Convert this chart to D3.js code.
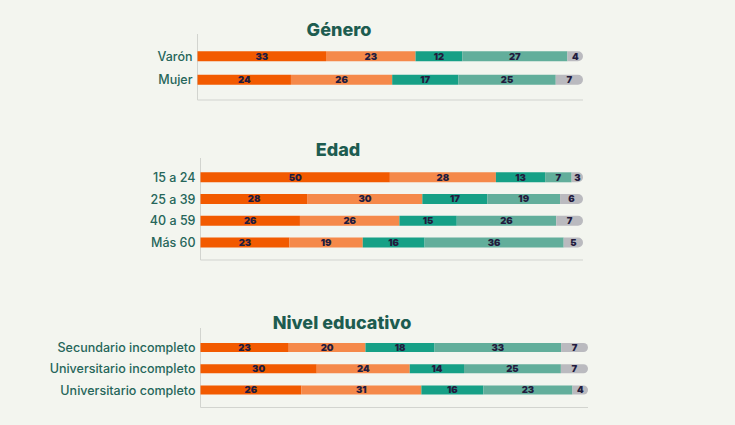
<!DOCTYPE html>
<html>
<head>
<meta charset="utf-8">
<script src="https://cdn.jsdelivr.net/npm/d3@7"></script>
<style>
  html, body { margin: 0; padding: 0; background: #f3f5ef; }
  svg { display: block; }
</style>
</head>
<body>
<svg id="chart" width="735" height="425"></svg>
<script>
// series keys (order of the stacked segments)
var keys = ['s1', 's2', 's3', 's4', 's5'];
var colors = ['#f25a00', '#f5894a', '#16a086', '#62ae9b', '#bababf'];

// Género
var generoCats = ['Varón', 'Mujer'];
var generoVals = [
  [33, 23, 12, 27, 4],
  [24, 26, 17, 25, 7]
];

// Edad
var edadCats = ['15 a 24', '25 a 39', '40 a 59', 'Más 60'];
var edadVals = [
  [50, 28, 13, 7, 3],
  [28, 30, 17, 19, 6],
  [26, 26, 15, 26, 7],
  [23, 19, 16, 36, 5]
];

// Nivel educativo
var nivelCats = ['Secundario incompleto', 'Universitario incompleto', 'Universitario completo'];
var nivelVals = [
  [23, 20, 18, 33, 7],
  [30, 24, 14, 25, 7],
  [26, 31, 16, 23, 4]
];

var svg = d3.select('#chart');
var font = 'Inter, "Open Sans", sans-serif';

// one block per section
var panel = function(o) {
  var g = svg.append('g');
  var rows = o.cats.map(function(c, i) {
    var r = { cat: c };
    keys.forEach(function(k, j) { r[k] = o.vals[i][j]; });
    return r;
  });
  var series = d3.stack().keys(keys).offset(d3.stackOffsetExpand)(rows);

  var x = d3.scaleLinear().domain([0, 1]).range([o.x0, o.x1]);
  var y = d3.scalePoint().domain(o.cats).range(o.yr);
  var h = o.bh;

  g.append('text')
    .attr('x', o.tx).attr('y', o.ty)
    .attr('text-anchor', 'middle')
    .style('font-family', font).style('font-weight', 800).style('font-size', '18px')
    .style('fill', '#1d5c50')
    .text(o.title);

  // axis lines
  g.append('line')
    .attr('x1', o.x0).attr('x2', o.x0).attr('y1', o.top).attr('y2', o.bottom)
    .style('stroke', '#d2d4cf').style('stroke-width', 1);
  g.append('line')
    .attr('x1', o.x0).attr('x2', o.x1).attr('y1', o.bottom).attr('y2', o.bottom)
    .style('stroke', '#d2d4cf').style('stroke-width', 1.2);

  // category labels
  g.selectAll('text.cat').data(o.cats).enter().append('text')
    .attr('class', 'cat')
    .attr('x', o.x0 - 5).attr('y', function(d) { return y(d); })
    .attr('dy', '0.36em')
    .attr('text-anchor', 'end')
    .style('font-family', font).style('font-weight', 500).style('font-size', '12.5px')
    .style('fill', '#26665a')
    .text(function(d) { return d; });

  series.forEach(function(s, si) {
    var last = si === series.length - 1;
    var sg = g.append('g').style('fill', colors[si]);
    sg.selectAll('path').data(s).enter().append('path')
      .attr('d', function(d) {
        var xa = x(d[0]), xb = x(d[1]), yt = y(d.data.cat) - h / 2;
        if (!last) return 'M' + xa + ',' + yt + 'H' + xb + 'V' + (yt + h) + 'H' + xa + 'Z';
        var r = h / 2;
        return 'M' + xa + ',' + yt + 'H' + (xb - r) +
          'A' + r + ',' + r + ' 0 0 1 ' + (xb - r) + ',' + (yt + h) +
          'H' + xa + 'Z';
      });
    sg.selectAll('text').data(s).enter().append('text')
      .attr('x', function(d) { return (x(d[0]) + x(d[1])) / 2; })
      .attr('y', function(d) { return y(d.data.cat); })
      .attr('dy', '0.36em')
      .attr('text-anchor', 'middle')
      .style('font-family', font).style('font-weight', 900).style('font-size', '9.5px')
      .style('fill', '#221c3e')
      .text(function(d) { return d.data[keys[si]]; });
  });
};

panel({ title: 'Género', cats: generoCats, vals: generoVals,
  x0: 197.5, x1: 583, yr: [56.3, 79.8], bh: 10, top: 34, bottom: 100, tx: 339, ty: 36 });
panel({ title: 'Edad', cats: edadCats, vals: edadVals,
  x0: 200.5, x1: 583, yr: [177.3, 242.5], bh: 10, top: 158, bottom: 260, tx: 338, ty: 155.5 });
panel({ title: 'Nivel educativo', cats: nivelCats, vals: nivelVals,
  x0: 200.5, x1: 588, yr: [347.5, 390], bh: 9, top: 328, bottom: 407.5, tx: 342, ty: 328.5 });
</script>
</body>
</html>
